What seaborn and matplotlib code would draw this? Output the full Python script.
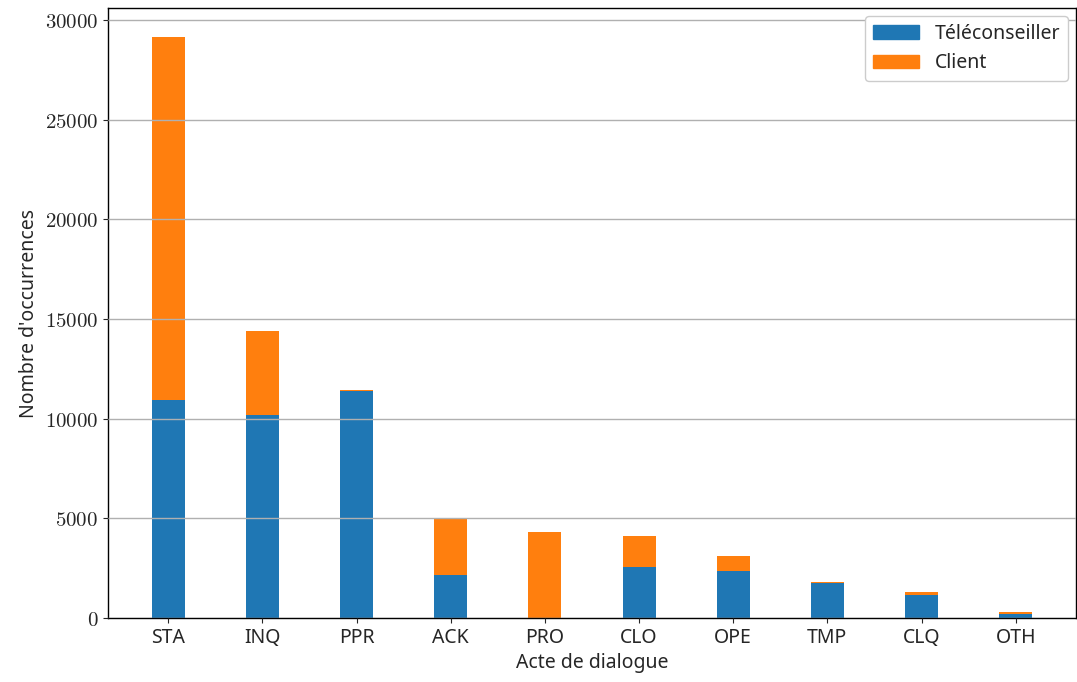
import numpy as np
import pandas as pd
import seaborn as sns
import matplotlib.pyplot as plt
from matplotlib.patches import Patch

actes = ['STA', 'INQ', 'PPR', 'ACK', 'PRO', 'CLO', 'OPE', 'TMP', 'CLQ', 'OTH']
teleconseiller = [10940, 10190, 11380, 2160, 0, 2560, 2360, 1760, 1150, 200]
client = [18210, 4210, 70, 2810, 4315, 1550, 750, 50, 150, 100]

sns.set_style('ticks')
plt.rcParams['font.family'] = ['Noto Sans', 'DejaVu Sans']
plt.rcParams['mathtext.fontset'] = 'cm'
plt.rcParams['axes.linewidth'] = 1.0

df = pd.DataFrame({'acte': actes, 'tele': teleconseiller, 'client': client})
df['total'] = df['tele'] + df['client']

bleu, orange = '#1f77b4', '#ff7f0e'

fig, ax = plt.subplots(figsize=(10.77, 6.82), dpi=100)
fig.subplots_adjust(left=0.1003, right=0.999, bottom=0.0938, top=0.988)

sns.barplot(data=df, x='acte', y='total', color=orange, saturation=1, width=0.35,
            linewidth=0, ax=ax)
sns.barplot(data=df, x='acte', y='tele', color=bleu, saturation=1, width=0.35,
            linewidth=0, ax=ax)

ax.set_xlim(-0.64, 9.64)
ax.set_ylim(0, 30600)
ax.set_yticks(range(0, 30001, 5000))
ax.set_yticklabels([f'${v}$' for v in range(0, 30001, 5000)], fontsize=15)
ax.tick_params(axis='x', labelsize=14)
ax.set_axisbelow(False)
ax.yaxis.grid(True, color='#b0b0b0', linewidth=1)
for s in ax.spines.values():
    s.set_visible(True)
    s.set_color('black')

ax.set_xlabel('Acte de dialogue', fontsize=14)
ax.set_ylabel("Nombre d'occurrences", fontsize=14)

handles = [Patch(color=bleu, label='Téléconseiller'), Patch(color=orange, label='Client')]
ax.legend(handles=handles, loc='upper right', fontsize=14, framealpha=1,
          handlelength=2.4, borderaxespad=0.4)

fig.savefig('out.png', dpi=100)
